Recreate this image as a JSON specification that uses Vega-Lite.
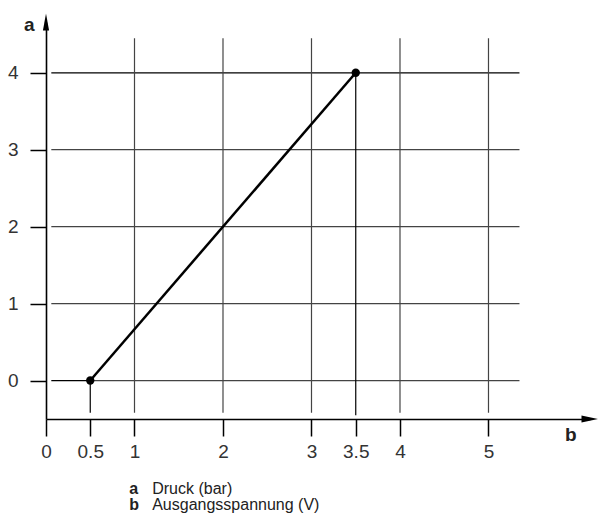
{
  "$schema": "https://vega.github.io/schema/vega-lite/v6.json",
  "autosize": "none",
  "padding": {"left": 46, "top": 22, "right": 8, "bottom": 98},
  "width": 544,
  "height": 397,
  "config": {"view": {"stroke": null}},
  "datasets": {
    "lines": [
      {"x": 0.06, "x2": 0.5, "y": 0, "y2": 0, "kind": "guide"},
      {"x": 0.5, "x2": 5.35, "y": 0, "y2": 0, "kind": "grid"},
      {"x": 0.06, "x2": 5.35, "y": 1, "y2": 1, "kind": "grid"},
      {"x": 0.06, "x2": 5.35, "y": 2, "y2": 2, "kind": "grid"},
      {"x": 0.06, "x2": 5.35, "y": 3, "y2": 3, "kind": "grid"},
      {"x": 0.06, "x2": 5.35, "y": 4, "y2": 4, "kind": "guide"},
      {"x": 1, "x2": 1, "y": -0.42, "y2": 4.45, "kind": "grid"},
      {"x": 2, "x2": 2, "y": -0.42, "y2": 4.45, "kind": "grid"},
      {"x": 3, "x2": 3, "y": -0.42, "y2": 4.45, "kind": "grid"},
      {"x": 4, "x2": 4, "y": -0.42, "y2": 4.45, "kind": "grid"},
      {"x": 5, "x2": 5, "y": -0.42, "y2": 4.45, "kind": "grid"},
      {"x": 0.5, "x2": 0.5, "y": -0.42, "y2": 0, "kind": "guide"},
      {"x": 3.5, "x2": 3.5, "y": -0.45, "y2": 4, "kind": "guide"}
    ],
    "curve": [
      {"spannung": 0.5, "druck": 0},
      {"spannung": 3.5, "druck": 4}
    ],
    "arrows": [
      {"x": 6.147, "y": -0.5, "dir": "right"},
      {"x": 0, "y": 4.66, "dir": "up"}
    ],
    "legend": [
      {"key": "a", "desc": "Druck (bar)"},
      {"key": "b", "desc": "Ausgangsspannung (V)"}
    ]
  },
  "layer": [
    {
      "layer": [
        {
          "data": {"name": "lines"},
          "mark": {"type": "rule", "strokeWidth": 1.2},
          "encoding": {
            "x": {
              "field": "x", "type": "quantitative",
              "scale": {"domain": [0, 6.147], "nice": false, "zero": false},
              "axis": {
                "values": [0, 0.5, 1, 2, 3, 3.5, 4, 5],
                "format": "~g",
                "grid": false,
                "domainColor": "#000", "domainWidth": 1.6,
                "tickColor": "#000", "tickWidth": 1.5, "tickSize": 17,
                "labelFont": "Liberation Sans, Arial, sans-serif",
                "labelFontSize": 19, "labelColor": "#333", "labelPadding": 6,
                "labelFlush": false, "labelOverlap": false,
                "title": "b",
                "titleFont": "Liberation Sans, Arial, sans-serif",
                "titleFontSize": 19, "titleFontWeight": "bold", "titleColor": "#222",
                "titleX": 530, "titleY": 21, "titleAlign": "right", "titleBaseline": "alphabetic", "titleAnchor": null
              }
            },
            "x2": {"field": "x2"},
            "y": {
              "field": "y", "type": "quantitative",
              "scale": {"domain": [-0.5, 4.66], "nice": false, "zero": false},
              "axis": {
                "values": [0, 1, 2, 3, 4],
                "format": "d",
                "grid": false,
                "domainColor": "#000", "domainWidth": 1.6,
                "tickColor": "#000", "tickWidth": 1.5, "tickSize": 16,
                "labelFont": "Liberation Sans, Arial, sans-serif",
                "labelFontSize": 19, "labelColor": "#333", "labelPadding": 12,
                "labelFlush": false, "labelOverlap": false,
                "title": "a",
                "titleFont": "Liberation Sans, Arial, sans-serif",
                "titleFontSize": 19, "titleFontWeight": "bold", "titleColor": "#222",
                "titleAngle": 0, "titleX": -12, "titleY": 8, "titleAlign": "right", "titleBaseline": "alphabetic", "titleAnchor": null
              }
            },
            "y2": {"field": "y2"},
            "color": {
              "field": "kind", "type": "nominal",
              "scale": {"domain": ["grid", "guide"], "range": ["#444444", "#000000"]},
              "legend": null
            }
          }
        },
        {
          "data": {"name": "curve"},
          "mark": {"type": "line", "color": "#000", "strokeWidth": 2.5},
          "encoding": {
            "x": {"field": "spannung", "type": "quantitative"},
            "y": {"field": "druck", "type": "quantitative"}
          }
        },
        {
          "data": {"name": "curve"},
          "mark": {"type": "point", "filled": true, "color": "#000", "size": 70, "opacity": 1},
          "encoding": {
            "x": {"field": "spannung", "type": "quantitative"},
            "y": {"field": "druck", "type": "quantitative"}
          }
        },
        {
          "data": {"name": "arrows"},
          "mark": {"type": "point", "filled": true, "color": "#000", "size": 290, "opacity": 1, "clip": false},
          "encoding": {
            "x": {"field": "x", "type": "quantitative"},
            "y": {"field": "y", "type": "quantitative"},
            "shape": {
              "field": "dir", "type": "nominal",
              "scale": {"domain": ["right", "up"], "range": ["M1,0L-1,0.42L-1,-0.42Z", "M0,-1L0.36,1L-0.36,1Z"]},
              "legend": null
            }
          }
        }
      ]
    },
    {
      "data": {"name": "legend"},
      "mark": {"type": "text", "align": "left", "baseline": "alphabetic", "font": "Liberation Sans, Arial, sans-serif", "fontSize": 16, "fontWeight": "bold", "color": "#222"},
      "encoding": {
        "x": {"datum": 0.94, "type": "quantitative"},
        "y": {"field": "key", "type": "ordinal", "scale": {"domain": ["a", "b"], "range": [472, 488], "padding": 0}, "axis": null},
        "text": {"field": "key"}
      }
    },
    {
      "data": {"name": "legend"},
      "mark": {"type": "text", "align": "left", "baseline": "alphabetic", "font": "Liberation Sans, Arial, sans-serif", "fontSize": 16, "color": "#222"},
      "encoding": {
        "x": {"datum": 1.2, "type": "quantitative"},
        "y": {"field": "key", "type": "ordinal", "scale": {"domain": ["a", "b"], "range": [472, 488], "padding": 0}, "axis": null},
        "text": {"field": "desc"}
      }
    }
  ],
  "resolve": {"scale": {"y": "independent"}}
}
